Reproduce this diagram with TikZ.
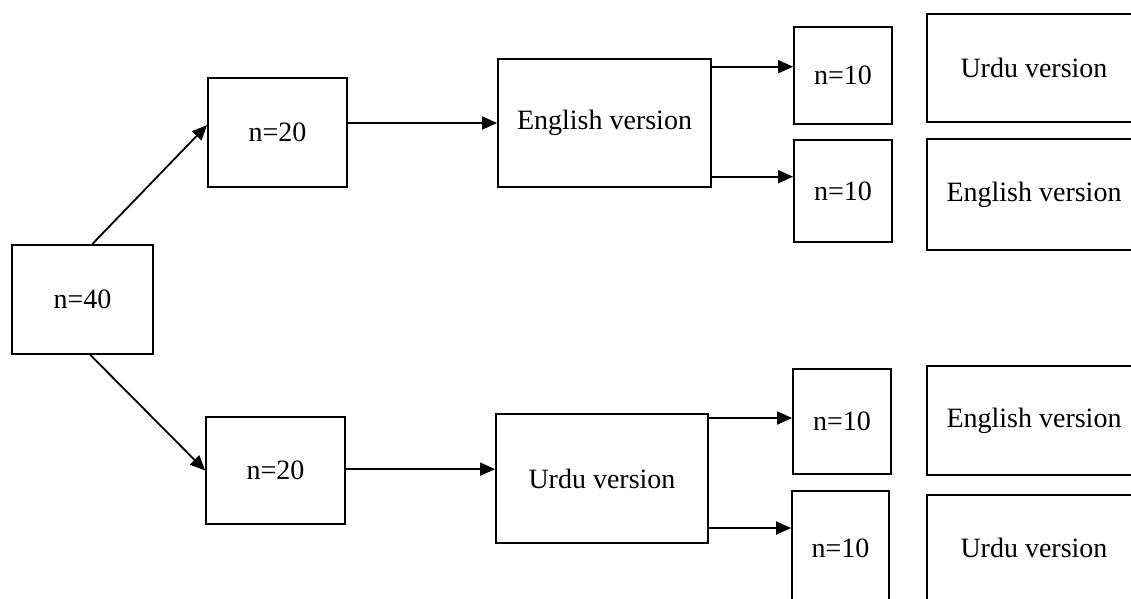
\documentclass[tikz,border=0pt]{standalone}
\usepackage{fontspec}
\setmainfont{Liberation Serif}
\usetikzlibrary{arrows.meta}

\begin{document}
\begin{tikzpicture}[x=0.5pt, y=-0.5pt,
  every node/.style={rectangle, draw, line width=0.9pt, inner sep=2pt, font=\fontsize{14}{16}\selectfont},
  arr/.style={line width=0.9pt, -{Triangle[length=7.5pt,width=6.5pt]}}]

\clip (0,0) rectangle (1131,599);

% Level 0 (whole sample)
\node[minimum width=70.5pt, minimum height=54.5pt] (n40) at (82.5,299.5) {n=40};

% Level 1 (halves)
\node[minimum width=69.5pt, minimum height=54.5pt] (n20a) at (277.5,132.5) {n=20};
\node[minimum width=69.5pt, minimum height=53.5pt] (n20b) at (275.5,470.5) {n=20};

% Level 2 (first version)
\node[minimum width=106.5pt, minimum height=64pt] (engv) at (604.5,123) {English version};
\node[minimum width=106pt, minimum height=64.5pt] (urdv) at (602,478.5) {Urdu version};

% Level 3 (quarters)
\node[minimum width=49pt, minimum height=48.5pt] (n10a) at (843,75.5) {n=10};
\node[minimum width=49pt, minimum height=51pt] (n10b) at (843,191) {n=10};
\node[minimum width=49pt, minimum height=52.5pt] (n10c) at (842,421.5) {n=10};
\node[minimum width=48.5pt, minimum height=57pt] (n10d) at (840.5,548) {n=10};

% Level 4 (second version)
\node[minimum width=107pt, minimum height=54pt] (r1) at (1034,68) {Urdu version};
\node[minimum width=107pt, minimum height=55.5pt] (r2) at (1034,194.5) {English version};
\node[minimum width=107pt, minimum height=54.5pt] (r3) at (1034,420.5) {English version};
\node[minimum width=107pt, minimum height=53pt] (r4) at (1034,548) {Urdu version};

% Edges
\draw[arr] (n40.80) -- (n20a.174);
\draw[arr] (n40.-82) -- (n20b.west);
\draw[arr] (n20a.east |- engv.west) -- (engv.west);
\draw[arr] (n20b.east |- urdv.175) -- (urdv.175);
\draw[arr] (engv.east |- n10a.170) -- (n10a.170);
\draw[arr] (engv.east |- n10b.164) -- (n10b.164);
\draw[arr] (urdv.east |- n10c.176) -- (n10c.176);
\draw[arr] (urdv.east |- n10d.158) -- (n10d.158);
\end{tikzpicture}
\end{document}
